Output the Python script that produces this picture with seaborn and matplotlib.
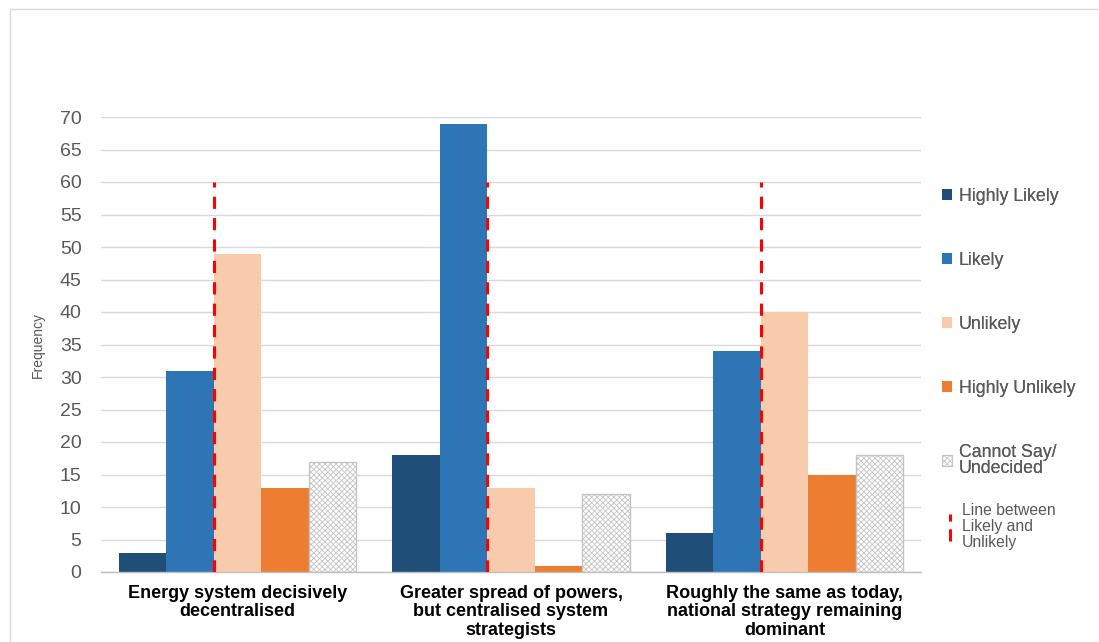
import matplotlib
matplotlib.use("Agg")
import matplotlib.pyplot as plt
from matplotlib.lines import Line2D
from matplotlib.patches import Patch, Rectangle
from matplotlib.legend_handler import HandlerBase
import numpy as np
import pandas as pd
import seaborn as sns

# Survey data: how likely each future energy scenario is judged to be
scenarios = [
    "Energy system decisively\ndecentralised",
    "Greater spread of powers,\nbut centralised system\nstrategists",
    "Roughly the same as today,\nnational strategy remaining\ndominant",
]
responses = ["Highly Likely", "Likely", "Unlikely", "Highly Unlikely",
             "Cannot Say/\nUndecided"]
highly_likely = [3, 18, 6]
likely = [31, 69, 34]
unlikely = [49, 13, 40]
highly_unlikely = [13, 1, 15]
cannot_say = [17, 12, 18]
divider_top = 60
divider_label = "Line between\nLikely and\nUnlikely"

colors = ["#1F4E79", "#2E75B6", "#F8CBAD", "#ED7D31", "#FFFFFF"]
hatch_grey = "#c4c4c4"

series = [highly_likely, likely, unlikely, highly_unlikely, cannot_say]
df = pd.DataFrame({
    "scenario": scenarios * len(responses),
    "response": [r for r in responses for _ in scenarios],
    "count": [v for s in series for v in s],
})

sns.set_theme(style="white")
plt.rcParams["font.family"] = ["Liberation Sans", "DejaVu Sans"]
plt.rcParams["hatch.linewidth"] = 0.6

fig = plt.figure(figsize=(10.99, 6.42), dpi=100)
ax = fig.add_axes([101 / 1099, 1 - 572 / 642, 820 / 1099, 455 / 642])

sns.barplot(data=df, x="scenario", y="count", hue="response",
            order=scenarios, hue_order=responses,
            palette=dict(zip(responses, colors)),
            width=0.868, linewidth=0, saturation=1, ax=ax, legend=False)

# Hatched grey bars for the undecided answers
for bar in ax.containers[4]:
    bar.set_facecolor("white")
    bar.set_edgecolor(hatch_grey)
    bar.set_hatch("xxxxxx")
    bar.set_linewidth(1.0)

# Dashed divider between the Likely and Unlikely bars of each group
div_x = [b.get_x() + b.get_width() for b in ax.containers[1]]
ax.vlines(div_x, 0, divider_top, colors="#FF0000", linewidth=2.2,
          linestyles=(0, (4, 3)), zorder=5)

ax.set_ylim(0, 70)
ax.set_xlim(-0.5, 2.5)
ax.set_yticks(range(0, 71, 5))
ax.yaxis.grid(True, color="#d9d9d9", linewidth=1)
ax.set_axisbelow(True)
for s in ["top", "right", "left"]:
    ax.spines[s].set_visible(False)
ax.spines["bottom"].set_color("#bfbfbf")
ax.spines["bottom"].set_linewidth(1)

ax.tick_params(axis="y", length=0, pad=14, labelsize=14, labelcolor="#595959")
ax.tick_params(axis="x", which="major", length=0, pad=9)
ax.set_xticks([-0.5, 0.5, 1.5, 2.5], minor=True)
ax.tick_params(axis="x", which="minor", length=6, color="#bfbfbf", width=1,
               direction="out")
for lbl in ax.get_xticklabels():
    lbl.set_fontweight("bold")
    lbl.set_fontsize(13)
    lbl.set_color("black")
    lbl.set_linespacing(1.15)

ax.set_xlabel("")
ax.set_ylabel("Frequency", fontsize=10, color="#595959")
ax.yaxis.set_label_coords(-0.068, 0.5)

# Outer chart frame
fig.patches.append(Rectangle((10 / 1099, -0.1), 1.2, 1 - 9 / 642 + 0.1,
                             transform=fig.transFigure, fill=False,
                             edgecolor="#d9d9d9", linewidth=1, zorder=0))

# Legend
handles = [Patch(facecolor=c, edgecolor="none") for c in colors[:4]]
handles.append(Patch(facecolor="white", edgecolor=hatch_grey, hatch="xxxxxx",
                     linewidth=0.8))
leg1 = fig.legend(handles, responses, loc="upper left",
                  bbox_to_anchor=(942 / 1099, 1 - 188 / 642),
                  frameon=False, fontsize=12.8, labelcolor="#595959",
                  handlelength=0.55, handleheight=0.55, handletextpad=0.4,
                  labelspacing=2.64, borderpad=0, borderaxespad=0)
for t in leg1.get_texts():
    t.set_linespacing(0.98)


class VerticalDashHandler(HandlerBase):
    def create_artists(self, legend, orig_handle, xdescent, ydescent,
                       width, height, fontsize, trans):
        x = -xdescent + width * 0.5
        line = Line2D([x, x], [-ydescent, -ydescent + height],
                      color="#FF0000", linewidth=2.2,
                      linestyle=(0, (4, 2.5)), transform=trans)
        return [line]


divider_handle = Line2D([], [], color="#FF0000")
leg2 = fig.legend([divider_handle], [divider_label], loc="upper left",
                  bbox_to_anchor=(946 / 1099, 1 - 503 / 642),
                  frameon=False, fontsize=11.3, labelcolor="#595959",
                  handlelength=0.5, handleheight=2.2, handletextpad=0.5,
                  borderpad=0, borderaxespad=0,
                  handler_map={Line2D: VerticalDashHandler()})
for t in leg2.get_texts():
    t.set_linespacing(1.08)
fig.add_artist(leg1)

fig.savefig("out.png", dpi=100)
